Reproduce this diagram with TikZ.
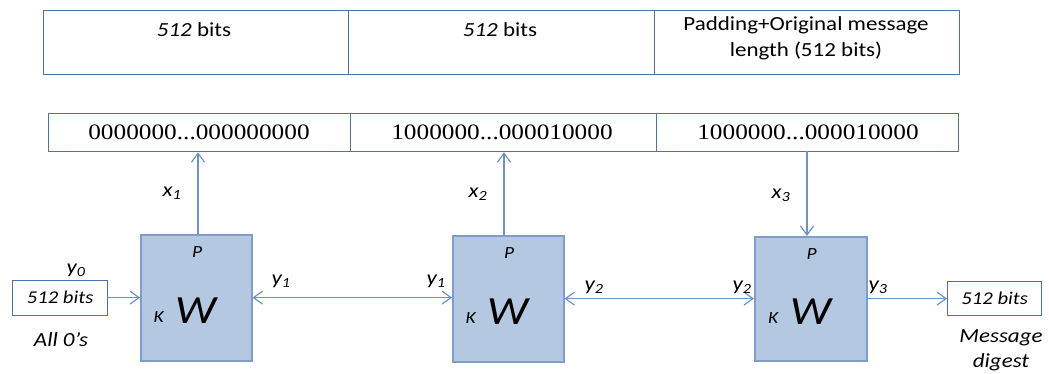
\documentclass[tikz,border=0pt]{standalone}
\usepackage{fontspec}
\setmainfont[FakeStretch=1.15]{Carlito}
\newfontfamily\digfont[FakeStretch=1.15]{Liberation Serif}
\usetikzlibrary{arrows.meta}
\definecolor{topline}{HTML}{4F71A6}
\definecolor{wfill}{HTML}{B4C8E2}
\definecolor{wline}{HTML}{7E9DCB}
\definecolor{arr}{HTML}{6A92CB}
\tikzset{
  topbox/.style={draw=topline, line width=1.2pt, inner sep=0pt, anchor=north west},
  wbox/.style={draw=wline, fill=wfill, line width=1.5pt, inner sep=0pt, anchor=north west, minimum width=111pt, minimum height=126pt},
  tip/.tip={Straight Barb[length=9pt,width=13pt,line width=1.2pt]},
  conn/.style={draw=arr, line width=1.2pt, -tip},
  dconn/.style={draw=arr, line width=1.2pt, tip-tip},
  lbl/.style={font=\fontsize{20}{22}\selectfont\itshape, inner sep=0pt},
  toptext/.style={font=\fontsize{20}{26}\selectfont, inner sep=0pt, align=center},
  digtext/.style={font=\digfont\fontsize{22}{24}\selectfont, inner sep=0pt},
  smallbox/.style={draw=topline, line width=1.2pt, inner sep=0pt, anchor=north west, font=\fontsize{18}{20}\selectfont\itshape},
}
\begin{document}
\begin{tikzpicture}[x=1pt,y=-1pt]
\useasboundingbox (0,0) rectangle (1049,374);
% top row
\node[topbox, minimum width=305pt, minimum height=64pt] (t1) at (43,10) {};
\node[topbox, minimum width=306pt, minimum height=64pt] (t2) at (348,10) {};
\node[topbox, minimum width=305pt, minimum height=64pt] (t3) at (654,10) {};
\node[toptext] (t1t) at (194,30) {\textit{512} bits};
\node[toptext] (t2t) at (500,30) {\textit{512} bits};
\node[toptext] (t3t) at (806,38) {Padding+Original message\\length (512 bits)};
% second row
\node[topbox, minimum width=302pt, minimum height=38pt] (b1) at (48,113) {};
\node[topbox, minimum width=306pt, minimum height=38pt] (b2) at (350,113) {};
\node[topbox, minimum width=302pt, minimum height=38pt] (b3) at (656,113) {};
\node[digtext] (b1t) at (199,132.5) {0000000...000000000};
\node[digtext] (b2t) at (502,132.5) {1000000...000010000};
\node[digtext] (b3t) at (808,132.5) {1000000...000010000};
% W boxes
\node[wbox] (w1) at (140,234) {};
\node[wbox] (w2) at (452,235) {};
\node[wbox, minimum width=112pt, minimum height=124pt] (w3) at (754,236) {};
\foreach \w in {w1,w2,w3}{
  \node[font=\fontsize{17}{19}\selectfont\itshape, inner sep=0pt] (\w p) at ([xshift=1pt,yshift=-18.5pt]\w.north) {P};
  \node[font=\fontsize{40}{44}\selectfont\itshape, inner sep=0pt] (\w w) at ([yshift=-13pt]\w.center) {W};
  \node[font=\fontsize{17}{19}\selectfont\itshape, inner sep=0pt] (\w k) at ([xshift=-37.5pt,yshift=-19.5pt]\w.center) {K};
}
% in/out boxes
\node[smallbox, minimum width=95pt, minimum height=35pt] (in) at (12,279.5) {512 bits};
\node[smallbox, minimum width=94pt, minimum height=34pt] (out) at (947,281) {512 bits};
% connectors
\coordinate (x1b) at (198,234);
\coordinate (x2b) at (504,235);
\coordinate (x3t) at (807,151);
\draw[conn] (x1b) -- (x1b |- b1.south);
\draw[conn] (x2b) -- (x2b |- b2.south);
\draw[conn] (x3t) -- (x3t |- w3.north);
\draw[conn] (in.east) -- (in.east -| w1.west);
\draw[dconn] (w1.east |- in.east) -- (w2.west |- in.east);
\draw[dconn] (w2.east |- out.west) -- (w3.west |- out.west);
\draw[conn] (w3.east |- out.west) -- (out.west);
% labels
\node[lbl] (x1) at (172,193) {x\textsubscript{1}};
\node[lbl] (x2) at (478,194) {x\textsubscript{2}};
\node[lbl] (x3) at (781,195) {x\textsubscript{3}};
\node[lbl] (y0) at (76,270) {y\textsubscript{0}};
\node[lbl] (y1a) at (281,281) {y\textsubscript{1}};
\node[lbl] (y1b) at (436,281) {y\textsubscript{1}};
\node[lbl] (y2a) at (594,287) {y\textsubscript{2}};
\node[lbl] (y2b) at (742,287) {y\textsubscript{2}};
\node[lbl] (y3) at (878,287) {y\textsubscript{3}};
\node[lbl] (all) at (61,339.5) {All 0’s};
\node[lbl, align=center, font=\fontsize{20}{25}\selectfont\itshape] (md) at (1001,350) {Message\\digest};
\end{tikzpicture}
\end{document}
